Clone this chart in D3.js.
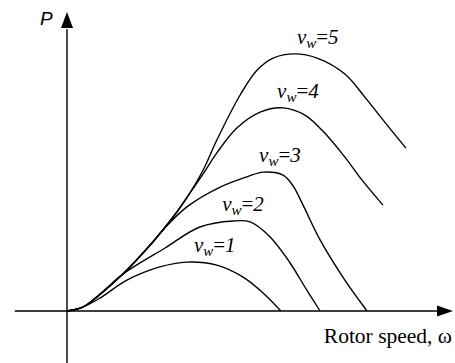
<!DOCTYPE html>
<html>
<head>
<meta charset="utf-8">
<script src="https://cdn.jsdelivr.net/npm/d3@7"></script>
<style>
  body { margin: 0; background: #fff; }
  svg { display: block; }
</style>
</head>
<body>
<div class="chart"></div>
<script>
// wind speeds and their power curves, [rotor speed, power] in chart units
var windSpeeds = [1, 2, 3, 4, 5];

var curveV1 = [[0, 0], [0.41, 0.12], [0.89, 0.43], [1.62, 1.03], [2.51, 1.47], [3.24, 1.63],
  [4.05, 1.53], [4.76, 1.13], [5.30, 0.6], [5.78, 0]];
var curveV2 = [[0, 0], [0.41, 0.12], [0.81, 0.47], [1.51, 1.23], [2.65, 2.1], [3.59, 2.8],
  [4.49, 3.0], [4.95, 2.97], [5.49, 2.47], [6.03, 1.6], [6.43, 0.8], [6.84, 0]];
var curveV3 = [[0, 0], [0.41, 0.12], [0.81, 0.47], [1.51, 1.23], [2.32, 2.3],
  [2.59, 2.7], [3.24, 3.47], [4.14, 4.13], [4.86, 4.47], [5.30, 4.63], [5.84, 4.53],
  [6.11, 4.17], [6.38, 3.53], [6.84, 2.37], [7.51, 1.03], [8.11, 0]];
var curveV4 = [[0, 0], [0.41, 0.12], [0.81, 0.47], [1.51, 1.23], [2.32, 2.3],
  [2.59, 2.7], [2.97, 3.3], [3.32, 3.93], [3.68, 4.57], [4.05, 5.27], [4.59, 6.1],
  [5.22, 6.63], [5.84, 6.77], [6.43, 6.53], [6.89, 6.03], [7.51, 5.13], [7.97, 4.37],
  [8.54, 3.53]];
var curveV5 = [[0, 0], [0.41, 0.12], [0.81, 0.47], [1.51, 1.23], [2.32, 2.3],
  [2.59, 2.7], [2.97, 3.3], [3.32, 3.93], [3.68, 4.7], [4.05, 5.7], [4.68, 7.2],
  [5.14, 8.03], [5.57, 8.43], [6.16, 8.57], [6.76, 8.43], [7.51, 7.9], [8.05, 7.13],
  [8.54, 6.37], [9.16, 5.43]];

var curves = [curveV1, curveV2, curveV3, curveV4, curveV5];

var xTitle = "Rotor speed, \u03c9";
var yTitle = "P";

// layout
var svgWidth = 455;
var svgHeight = 363;

var svg = d3.select(".chart")
  .append("svg")
  .attr("width", svgWidth)
  .attr("height", svgHeight);

// origin sits at (67, 311)
var x = d3.scaleLinear().domain([0, 10]).range([67, 437]);
var y = d3.scaleLinear().domain([0, 10]).range([311, 11]);

// axes (plain lines with arrow heads, no ticks)
var axisG = svg.append("g").attr("stroke", "#000").attr("stroke-width", 1.4);

axisG.append("line")
  .attr("x1", x(-1.41)).attr("x2", x(10.1))
  .attr("y1", y(0)).attr("y2", y(0));

axisG.append("line")
  .attr("x1", x(0)).attr("x2", x(0))
  .attr("y1", y(-1.75)).attr("y2", y(9.4));

// x arrow
svg.append("path")
  .attr("d", "M" + x(10) + "," + (y(0) - 5.5) +
    "L" + (x(10) + 16) + "," + y(0) +
    "L" + x(10) + "," + (y(0) + 5.5) + "Z")
  .attr("fill", "#000");

// y arrow
svg.append("path")
  .attr("d", "M" + (x(0) - 6) + "," + (y(9.43)) +
    "L" + x(0) + "," + (y(9.43) - 16) +
    "L" + (x(0) + 6) + "," + (y(9.43)) + "Z")
  .attr("fill", "#000");

// curves
var line = d3.line()
  .x(d => x(d[0]))
  .y(d => y(d[1]))
  .curve(d3.curveCatmullRom.alpha(0.5));

svg.selectAll(".curve")
  .data(curves)
  .enter()
  .append("path")
  .attr("class", "curve")
  .attr("d", line)
  .attr("fill", "none")
  .attr("stroke", "#000")
  .attr("stroke-width", 1.4);

// labels just above each curve's peak
var labelDx = [7, -11, -4, -6, 2];

var labels = svg.selectAll(".vlabel")
  .data(curves)
  .enter()
  .append("text")
  .attr("class", "vlabel")
  .attr("x", function(d, i) {
    var peak = d3.greatest(d, p => p[1]);
    return x(peak[0]) + labelDx[i];
  })
  .attr("y", function(d) {
    var peak = d3.greatest(d, p => p[1]);
    return y(peak[1]) - 10;
  })
  .style("font-family", "'Liberation Serif'")
  .style("font-size", "21px")
  .attr("fill", "#000");

labels.append("tspan").style("font-style", "italic").text("v");
labels.append("tspan").style("font-style", "italic").style("font-size", "15px")
  .attr("dy", 4).text("w");
labels.append("tspan").attr("dy", -4).text("=");
labels.append("tspan").style("font-style", "italic")
  .text((d, i) => windSpeeds[i]);

// axis titles
svg.append("text")
  .attr("x", 452)
  .attr("y", 343)
  .attr("text-anchor", "end")
  .style("font-family", "'Liberation Serif'")
  .style("font-size", "21.5px")
  .text(xTitle);

svg.append("text")
  .attr("x", 40)
  .attr("y", 25)
  .style("font-family", "'Liberation Sans'")
  .style("font-style", "italic")
  .style("font-size", "19px")
  .text(yTitle);
</script>
</body>
</html>
